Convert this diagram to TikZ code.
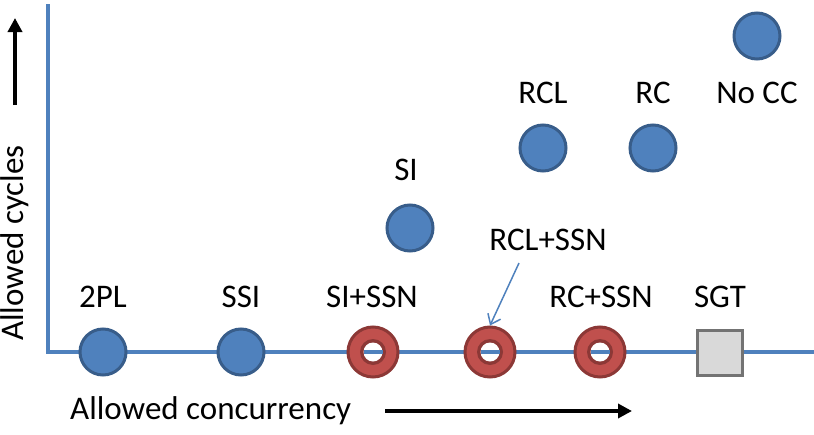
\documentclass[tikz,border=0pt]{standalone}
\usepackage{fontspec}
\setmainfont{Carlito}
\usetikzlibrary{arrows.meta}
\definecolor{cblue}{HTML}{4F81BD}
\definecolor{cbdark}{HTML}{385D8A}
\definecolor{cred}{HTML}{C0504D}
\definecolor{crdark}{HTML}{8C3836}
\tikzset{x=1pt,y=-1pt,
 dot/.style={circle,fill=cblue,draw=cbdark,line width=3pt,minimum size=46pt,inner sep=0pt},
 ringo/.style={circle,draw=crdark,line width=3pt,fill=cred,minimum size=50pt,inner sep=0pt},
 lbl/.style={font=\fontsize{33}{36}\selectfont,inner sep=0pt},
 axis/.style={draw=cblue,line width=3.5pt}}
\begin{document}
\begin{tikzpicture}
\useasboundingbox (0,0) rectangle (814,434);
\coordinate (o) at (48,352); \coordinate (top) at (48,4); \coordinate (right) at (814,352);
\draw[axis] (top) -- (o) -- (right);
\node[dot] (p2pl) at (103,352) {};
\node[dot] (ssi) at (241,352) {};
\foreach \n/\x in {sissn/373,rclssn/490,rcssn/600}{
 \node[ringo] (\n) at (\x,352) {};
 \fill[crdark] (\x,352) circle (13pt);
 \fill[white] (\x,352) circle (9.5pt);
 \draw[cblue,line width=3.5pt] (\x-9.5,352) -- (\x+9.5,352);
}
\node[draw=gray!90!black,fill=gray!30,line width=3.5pt,minimum size=45pt,inner sep=0pt] (sgt) at (720,353) {};
\node[dot] (si) at (410,228) {};
\node[dot] (rcl) at (543,148) {};
\node[dot] (rc) at (653,148) {};
\node[dot] (nocc) at (757,36) {};
\node[lbl] (l1) at (103,297) {2PL};
\node[lbl] (l2) at (241,297) {SSI};
\node[lbl] (l3) at (372,297) {SI+SSN};
\node[lbl] (l4) at (548,240) {RCL+SSN};
\node[lbl] (l5) at (601,297) {RC+SSN};
\node[lbl] (l6) at (720,297) {SGT};
\node[lbl] (l7) at (406,170) {SI};
\node[lbl] (l8) at (543,93) {RCL};
\node[lbl] (l9) at (653,93) {RC};
\node[lbl] (l10) at (757,93) {No CC};
\coordinate (as) at (519,263);
\draw[cblue,line width=1.5pt,-{Straight Barb[length=9pt,width=14pt]}] (as) -- (rclssn.north);
\node[lbl,rotate=90] (yl) at (15,243) {Allowed cycles};
\coordinate (ya) at (15,105); \coordinate (yb) at (15,18);
\draw[line width=3.5pt,-{Triangle[length=14pt,width=14pt]}] (ya) -- (yb);
\node[lbl,anchor=west] (xl) at (70,411) {Allowed concurrency};
\coordinate (xa) at (385,411); \coordinate (xb) at (632,411);
\draw[line width=3.5pt,-{Triangle[length=14pt,width=14pt]}] (xa) -- (xb);
\end{tikzpicture}
\end{document}
